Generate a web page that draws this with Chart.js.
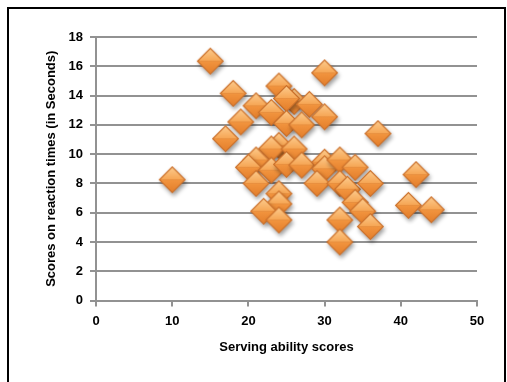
<!DOCTYPE html>
<html>
<head>
<meta charset="utf-8">
<script src="https://cdn.jsdelivr.net/npm/chart.js@4/dist/chart.umd.min.js"></script>
<style>
  html, body { margin: 0; padding: 0; background: #fff; }
  #wrap { position: relative; width: 507px; height: 382px; overflow: hidden; }
  #frame { position: absolute; left: 7px; top: 7px; width: 495px; height: 420px; border: 2px solid #000; }
  #c { position: absolute; left: 0; top: 0; }
</style>
</head>
<body>
<div id="wrap">
  <div id="frame"></div>
  <canvas id="c" width="507" height="382"></canvas>
</div>
<script>
// Serving ability score of each player and the matching reaction-time score
const servingScores = [
  15, 30, 18, 24, 21, 26, 25, 28, 23, 19,
  25, 27, 30, 37, 17, 24, 23, 26, 21, 20,
  23, 25, 27, 30, 30, 32, 34, 10, 21, 29,
  32, 33, 36, 42, 24, 24, 22, 24, 34, 35,
  41, 44, 32, 36, 32
];
const reactionScores = [
  16.35, 15.55, 14.15, 14.65, 13.3, 13.6, 13.8, 13.4, 12.85, 12.2,
  12.1, 12.0, 12.55, 11.4, 11.05, 10.6, 10.35, 10.35, 9.6, 9.1,
  8.9, 9.3, 9.25, 9.45, 9.0, 9.6, 9.1, 8.25, 8.0, 8.0,
  8.0, 7.6, 8.0, 8.6, 7.3, 6.6, 6.1, 5.5, 6.7, 6.1,
  6.5, 6.2, 5.5, 5.05, 4.0
];
const xTicks = [0, 10, 20, 30, 40, 50];
const yTicks = [0, 2, 4, 6, 8, 10, 12, 14, 16, 18];

const xTitle = 'Serving ability scores';
const yTitle = 'Scores on reaction times (in Seconds)';

// Bevelled orange diamond marker with a soft drop shadow
function makeDiamond(r) {
  const pad = 8;
  const size = 2 * (r + pad);
  const cv = document.createElement('canvas');
  cv.width = size; cv.height = size;
  const g = cv.getContext('2d');
  const cx = size / 2, cy = size / 2;
  const path = (rr) => {
    g.beginPath();
    g.moveTo(cx, cy - rr);
    g.lineTo(cx + rr, cy);
    g.lineTo(cx, cy + rr);
    g.lineTo(cx - rr, cy);
    g.closePath();
  };
  g.save();
  g.shadowColor = 'rgba(0,0,0,0.38)';
  g.shadowBlur = 4;
  g.shadowOffsetX = 1.5;
  g.shadowOffsetY = 3;
  path(r);
  g.fillStyle = '#d8742a';
  g.fill();
  g.restore();

  // outer rim
  path(r);
  g.fillStyle = '#c9702c';
  g.fill();

  const ir = r - 1.5;
  // upper facet
  g.beginPath();
  g.moveTo(cx, cy - ir);
  g.lineTo(cx + ir, cy);
  g.lineTo(cx - ir, cy);
  g.closePath();
  let gr = g.createLinearGradient(0, cy - ir, 0, cy);
  gr.addColorStop(0, '#fcc98a');
  gr.addColorStop(1, '#f6a553');
  g.fillStyle = gr;
  g.fill();
  // lower facet
  g.beginPath();
  g.moveTo(cx - ir, cy);
  g.lineTo(cx + ir, cy);
  g.lineTo(cx, cy + ir);
  g.closePath();
  gr = g.createLinearGradient(0, cy, 0, cy + ir);
  gr.addColorStop(0, '#f2953f');
  gr.addColorStop(1, '#e47f2c');
  g.fillStyle = gr;
  g.fill();
  return cv;
}

const marker = makeDiamond(13.5);
const points = servingScores.map((x, i) => ({ x: x, y: reactionScores[i] }));
const font = { family: "'Liberation Sans', Arial, sans-serif", size: 13, weight: 'bold' };

new Chart(document.getElementById('c'), {
  type: 'scatter',
  data: {
    datasets: [{
      data: points,
      pointStyle: marker,
      pointRadius: 14,
      pointHoverRadius: 14
    }]
  },
  options: {
    responsive: false,
    animation: false,
    devicePixelRatio: 1,
    layout: { padding: { left: 0, right: 30, top: 37, bottom: 0 } },
    plugins: { legend: { display: false }, tooltip: { enabled: false } },
    scales: {
      x: {
        type: 'linear',
        min: 0, max: 50,
        afterBuildTicks: (s) => { s.ticks = xTicks.map(v => ({ value: v })); },
        afterFit: (s) => { s.height = 81.5; },
        ticks: { color: '#000', font: font, padding: 7, maxRotation: 0 },
        grid: { drawOnChartArea: false, drawTicks: true, tickLength: 6, color: '#929292', lineWidth: 2 },
        border: { color: '#929292', width: 2 },
        title: { display: true, text: xTitle, color: '#000', font: font, padding: { top: 0, bottom: 27 } }
      },
      y: {
        type: 'linear',
        min: 0, max: 18,
        afterBuildTicks: (s) => { s.ticks = yTicks.map(v => ({ value: v })); },
        afterFit: (s) => { s.width = 96; },
        ticks: { color: '#000', font: font, padding: 7 },
        grid: { drawTicks: true, tickLength: 6, color: '#929292', lineWidth: 2 },
        border: { color: '#929292', width: 2 },
        title: { display: true, text: yTitle, color: '#000', font: font, padding: { top: 44, bottom: 0 } }
      }
    }
  }
});
</script>
</body>
</html>
